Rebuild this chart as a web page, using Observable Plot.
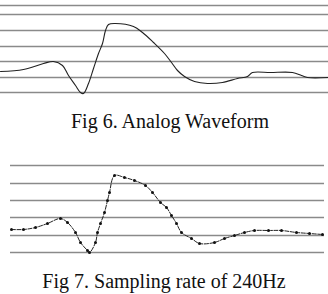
<!DOCTYPE html>
<html>
<head>
<meta charset="utf-8">
<script src="https://cdn.jsdelivr.net/npm/d3@7"></script>
<script src="https://cdn.jsdelivr.net/npm/@observablehq/plot@0.6"></script>
<style>
  html, body { margin: 0; padding: 0; background: #fff; }
  body { width: 328px; height: 294px; position: relative; overflow: hidden; }
  .panel { position: absolute; left: 0; }
  .cap { position: absolute; left: 0; width: 328px; text-align: center; font-family: "Liberation Serif", "DejaVu Serif", serif; color: #111; white-space: nowrap; }
</style>
</head>
<body>
<div id="panelTop" class="panel" style="top:0"></div>
<div class="cap" id="cap1" style="top:110px; font-size:20px; padding-left:6px;">Fig 6. Analog Waveform</div>
<div id="panelBottom" class="panel" style="top:155px"></div>
<div class="cap" id="cap2" style="top:270px; font-size:20px;">Fig 7. Sampling rate of 240Hz</div>
<script>
// ---- Fig 6: analog waveform (time, amplitude) ----
const analogTime = [0, 23, 43, 53, 62, 68, 75, 80, 83, 88, 93, 98, 102, 105, 108, 115, 133, 142, 153, 164, 171, 177, 184, 194, 207, 222, 237, 247, 252, 270, 292, 301, 307, 328];
const analogAmp  = [29, 31, 37, 39, 35, 25, 15, 8, 7, 17, 32, 47, 57, 70, 76, 77, 74, 68, 58, 47, 38, 30, 24, 19, 17, 18, 22, 24, 28, 28, 28, 25, 23, 23];
const analogGrid = [95, 86, 70, 54, 39, 23, 8];

// ---- Fig 7: samples at 240 Hz (time, amplitude) ----
const sampleTime = [11, 23, 35, 47, 60, 67, 75, 80, 87, 89, 95, 97, 100, 104, 107, 109, 114, 124, 134, 145, 152, 160, 166, 171, 176, 181, 191, 199, 214, 224, 234, 244, 254, 268, 281, 296, 309, 322];
const sampleAmp  = [31, 31, 33, 37, 42, 38, 28, 18, 10, 8, 18, 28, 37, 48, 60, 68, 85, 83, 80, 75, 68, 58, 53, 45, 37, 28, 22, 17, 18, 22, 25, 28, 30, 30, 30, 28, 27, 26];
const sampleGrid = [95, 77, 60, 43, 25, 8];

const analog = analogTime.map((t, i) => ({t, a: analogAmp[i]}));
const samples = sampleTime.map((t, i) => ({t, a: sampleAmp[i]}));
const gridColor = "#8a8a8a";

const plotTop = Plot.plot({
  width: 328, height: 100,
  margin: 0,
  x: {domain: [0, 328], axis: null},
  y: {domain: [0, 100], axis: null},
  marks: [
    Plot.ruleY(analogGrid, {stroke: gridColor, strokeWidth: 1.3}),
    Plot.line(analog, {x: "t", y: "a", curve: "catmull-rom", stroke: "#222", strokeWidth: 1.1})
  ]
});
document.getElementById("panelTop").append(plotTop);

const [t0, t1] = d3.extent(sampleTime);
const plotBottom = Plot.plot({
  width: 328, height: 105,
  margin: 0,
  x: {domain: [0, 328], axis: null},
  y: {domain: [0, 105], axis: null},
  marks: [
    Plot.ruleY(sampleGrid, {x1: t0 - 1, x2: t1 + 2, stroke: gridColor, strokeWidth: 1.3}),
    Plot.line(samples, {x: "t", y: "a", curve: "catmull-rom", stroke: "#222", strokeWidth: 1, strokeDasharray: "4,1.5"}),
    Plot.dot(samples, {x: "t", y: "a", r: 1.5, fill: "#111", stroke: "none"})
  ]
});
document.getElementById("panelBottom").append(plotBottom);
</script>
</body>
</html>
